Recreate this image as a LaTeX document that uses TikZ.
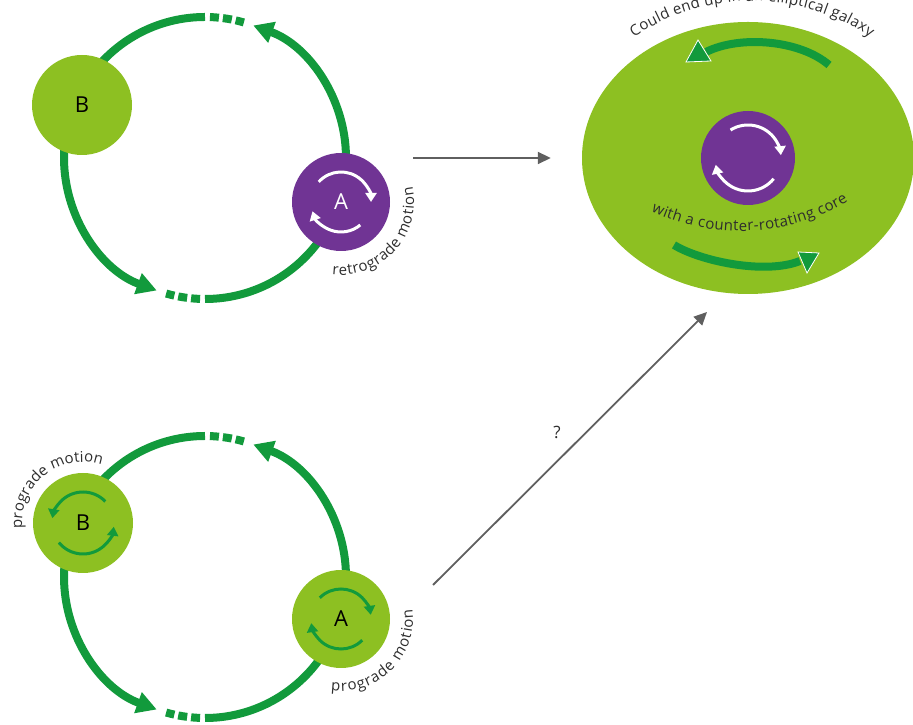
\documentclass[tikz,border=0pt]{standalone}
\usepackage{fontspec}
\setmainfont{Open Sans}
\usetikzlibrary{arrows.meta,shapes.geometric,decorations.text}
\definecolor{orbitgreen}{RGB}{18,154,60}
\definecolor{leafgreen}{RGB}{141,192,34}
\definecolor{corepurple}{RGB}{112,52,148}
\definecolor{flowgrey}{RGB}{95,95,95}
\definecolor{labelgrey}{RGB}{45,45,45}
\newcommand{\curvefont}{\fontsize{15}{15}\selectfont}

\tikzset{
  orbit/.style={line width=8pt, orbitgreen},
  orbitarrow/.style={orbit, -{Triangle[length=20pt,width=21pt]}},
  orbitdash/.style={orbit, dash pattern=on 9pt off 4pt},
  body/.style={circle, minimum size=100pt, inner sep=0pt, font=\fontsize{22}{22}\selectfont},
  spinarrow/.style={line width=3pt, -{Triangle[length=9pt,width=11pt]}},
  flow/.style={line width=1.8pt, flowgrey, -{Triangle[length=13pt,width=12pt]}},
  curved/.style={decorate, decoration={text along path, text align={fit to path},
      text color=labelgrey, text={|\curvefont|#1}}}
}

\begin{document}
\begin{tikzpicture}[x=1pt,y=1pt]
  \useasboundingbox (0,0) rectangle (913,725);

  % upper pair, A turns against the orbit
  \coordinate (Ot) at (205,567);
  \draw[orbitarrow] (Ot) ++(90:141) arc[start angle=90, end angle=250, radius=141];
  \draw[orbitdash] (Ot) ++(268:141) arc[start angle=268, end angle=254, radius=141];
  \draw[orbitarrow] (Ot) ++(270:141) arc[start angle=270, end angle=430, radius=141];
  \draw[orbitdash] (Ot) ++(88:141) arc[start angle=88, end angle=74, radius=141];
  \node[body, fill=leafgreen] (Bt) at (82,620) {B};
  \node[body, fill=corepurple, text=white, minimum size=98pt] (At) at (341,523) {A};
  \draw[spinarrow, white] (At.center) ++(138:30) arc[start angle=138, end angle=0, radius=30];
  \draw[spinarrow, white] (At.center) ++(-50:30) arc[start angle=-50, end angle=-162, radius=30];
  \path[curved={retrograde motion}] (At.center) ++(-97:73) arc[start angle=-97, end angle=12, radius=73];

  % lower pair, both turn with the orbit
  \coordinate (Ob) at (205,148);
  \draw[orbitarrow] (Ob) ++(90:141) arc[start angle=90, end angle=250, radius=141];
  \draw[orbitdash] (Ob) ++(268:141) arc[start angle=268, end angle=254, radius=141];
  \draw[orbitarrow] (Ob) ++(270:141) arc[start angle=270, end angle=430, radius=141];
  \draw[orbitdash] (Ob) ++(88:141) arc[start angle=88, end angle=74, radius=141];
  \node[body, fill=leafgreen] (Bb) at (83,202) {B};
  \node[body, fill=leafgreen, minimum size=98pt] (Ab) at (341,106) {A};
  \draw[spinarrow, orbitgreen] (Bb.center) ++(44:31) arc[start angle=44, end angle=171, radius=31];
  \draw[spinarrow, orbitgreen] (Bb.center) ++(219:31) arc[start angle=219, end angle=353, radius=31];
  \draw[spinarrow, orbitgreen] (Ab.center) ++(135:30) arc[start angle=135, end angle=8, radius=30];
  \draw[spinarrow, orbitgreen] (Ab.center) ++(-45:30) arc[start angle=-45, end angle=-172, radius=30];
  \path[curved={prograde motion}] (Bb.center) ++(185:61) arc[start angle=185, end angle=72, radius=61];
  \path[curved={prograde motion}] (Ab.center) ++(-98:72) arc[start angle=-98, end angle=8, radius=72];

  % merger result
  \node[ellipse, fill=leafgreen, minimum width=332pt, minimum height=272pt, inner sep=0pt] (galaxy) at (748,567) {};
  \node[circle, fill=corepurple, minimum size=94pt, inner sep=0pt] (core) at (748,567) {};
  \draw[spinarrow, white] (core.center) ++(122:33) arc[start angle=122, end angle=5, radius=33];
  \draw[spinarrow, white] (core.center) ++(-39:33) arc[start angle=-39, end angle=-168, radius=33];
  \draw[orbit] (829,660) .. controls (800,685) and (740,690) .. (706,673);
  \filldraw[orbitgreen, draw=white, line width=0.8pt] (698,685) -- (686,663) -- (711,664) -- cycle;
  \draw[orbit] (674,480) .. controls (700,464) and (765,450) .. (800,464);
  \filldraw[orbitgreen, draw=white, line width=0.8pt] (798,473) -- (819,472) -- (807,452) -- cycle;
  \path[curved={with a counter-rotating core}] (740,704) ++(-115:210) arc[start angle=-115, end angle=-59, radius=210];
  \path[curved={Could end up in an elliptical galaxy}] (752,513) ++(124:211) arc[start angle=124, end angle=56, radius=211];

  % where the pairs lead
  \coordinate (toptail) at (413,567);
  \coordinate (lowtail) at (433,140);
  \coordinate (lowhead) at (707,413);
  \draw[flow, shorten >=31pt] (toptail) -- (galaxy);
  \draw[flow] (lowtail) -- (lowhead);
  \node[font=\fontsize{17}{17}\selectfont, text=labelgrey] (qmark) at (557,293) {?};
\end{tikzpicture}
\end{document}
